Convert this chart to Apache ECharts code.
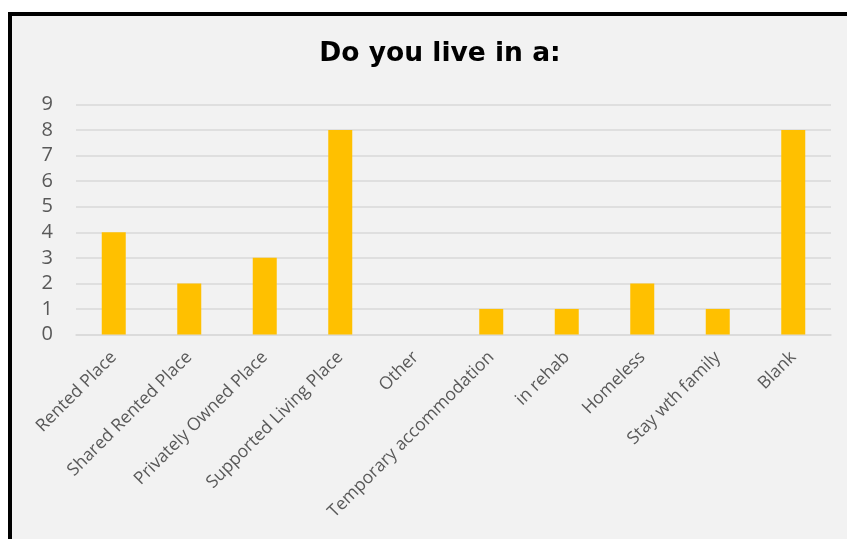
<!DOCTYPE html>
<html>
<head>
<meta charset="utf-8">
<script src="https://cdn.jsdelivr.net/npm/echarts@6/dist/echarts.min.js"></script>
<style>
html,body{margin:0;padding:0;background:#ffffff;width:847px;height:539px;overflow:hidden;}
#frame{position:absolute;left:8px;top:12px;width:900px;height:600px;border:4px solid #000;background:#f2f2f2;}
#chart{position:absolute;left:0;top:0;width:847px;height:539px;}
</style>
</head>
<body>
<div id="frame"></div>
<div id="chart"></div>
<script>
const categories = ["Rented Place","Shared Rented Place","Privately Owned Place","Supported Living Place","Other","Temporary accommodation","in rehab","Homeless","Stay wth family","Blank"];
const counts = [4,2,3,8,0,1,1,2,1,8];
const yTicks = [0,1,2,3,4,5,6,7,8,9];

const chart = echarts.init(document.getElementById('chart'), null, {renderer:'canvas'});
chart.setOption({
  backgroundColor: 'transparent',
  animation: false,
  title: {
    text: 'Do you live in a:',
    left: 435, top: 36, textAlign: 'center',
    textStyle: {fontFamily: 'DejaVu Sans', fontWeight: 'bold', fontSize: 26.5, color: '#000'}
  },
  grid: {left: 76, right: 16, top: 104.5, bottom: 204.5, containLabel: false},
  xAxis: {
    type: 'category',
    data: categories,
    axisLine: {show: true, lineStyle: {color: '#d9d9d9', width: 1.5}},
    axisTick: {show: false},
    axisLabel: {rotate: 45, interval: 0, fontFamily: 'Open Sans', fontSize: 17.5, color: '#595959', margin: 20}
  },
  yAxis: {
    type: 'value',
    min: yTicks[0], max: yTicks[yTicks.length-1], interval: 1,
    axisLine: {show: false},
    axisTick: {show: false},
    splitLine: {show: true, lineStyle: {color: '#d9d9d9', width: 1.5}},
    axisLabel: {fontFamily: 'Open Sans', fontSize: 20, color: '#595959', margin: 23}
  },
  series: [{
    type: 'bar',
    data: counts,
    barWidth: 24,
    itemStyle: {color: '#ffc000'}
  }]
});
</script>
</body>
</html>
